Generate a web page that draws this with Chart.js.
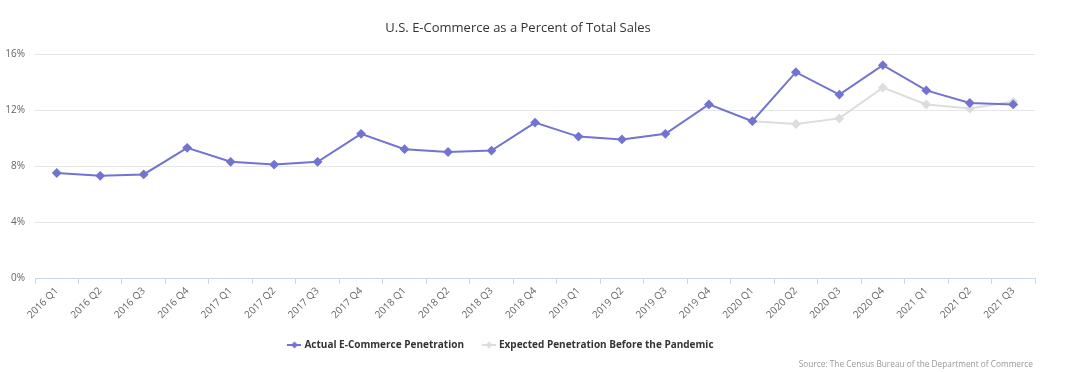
<!DOCTYPE html>
<html>
<head>
<meta charset="utf-8">
<script src="https://cdn.jsdelivr.net/npm/chart.js@4/dist/chart.umd.min.js"></script>
<style>
html,body{margin:0;padding:0;background:#fff;}
#wrap{width:1080px;height:372px;position:relative;}
</style>
</head>
<body>
<div id="wrap"><canvas id="c" width="1080" height="372"></canvas></div>
<script>
const categories = ["2016 Q1","2016 Q2","2016 Q3","2016 Q4","2017 Q1","2017 Q2","2017 Q3","2017 Q4",
  "2018 Q1","2018 Q2","2018 Q3","2018 Q4","2019 Q1","2019 Q2","2019 Q3","2019 Q4",
  "2020 Q1","2020 Q2","2020 Q3","2020 Q4","2021 Q1","2021 Q2","2021 Q3"];
const actualPenetration = [7.5,7.3,7.4,9.3,8.3,8.1,8.3,10.3,9.2,9.0,9.1,11.1,10.1,9.9,10.3,12.4,11.2,14.7,13.1,15.2,13.4,12.5,12.4];
const expectedPenetration = [null,null,null,null,null,null,null,null,null,null,null,null,null,null,null,null,11.2,11.0,11.4,13.6,12.4,12.1,12.6];
const yTicks = [0,4,8,12,16];
const seriesNames = ["Actual E-Commerce Penetration","Expected Penetration Before the Pandemic"];
const titleText = "U.S. E-Commerce as a Percent of Total Sales";
const sourceText = "Source: The Census Bureau of the Department of Commerce";

const PURPLE = '#7373d1';
const GRAY = '#dddddd';
const FONT = "'Open Sans', 'Liberation Sans', sans-serif";

function legendIcon(color){
  const cv = document.createElement('canvas');
  cv.width = 14; cv.height = 10;
  const g = cv.getContext('2d');
  g.strokeStyle = color; g.lineWidth = 2;
  g.beginPath(); g.moveTo(0,5); g.lineTo(14,5); g.stroke();
  g.fillStyle = color;
  g.beginPath(); g.moveTo(7,1.5); g.lineTo(10.5,5); g.lineTo(7,8.5); g.lineTo(3.5,5); g.closePath(); g.fill();
  return cv;
}
const icons = [legendIcon(PURPLE), legendIcon(GRAY)];

const extras = {
  id: 'extras',
  afterLayout(chart){
    const lg = chart.legend;
    if (lg) { lg.left -= 16; lg.right -= 16; }
  },
  afterDraw(chart){
    const ctx = chart.ctx;
    ctx.save();
    ctx.fillStyle = '#333333';
    ctx.font = "13px " + FONT;
    ctx.textAlign = 'center';
    ctx.textBaseline = 'middle';
    ctx.fillText(titleText, 518, 28);
    ctx.fillStyle = '#999999';
    ctx.font = "8.3px " + FONT;
    ctx.textAlign = 'right';
    ctx.fillText(sourceText, 1033, 365);
    ctx.restore();
  }
};

new Chart(document.getElementById('c'), {
  type: 'line',
  data: {
    labels: categories,
    datasets: [
      { label: seriesNames[0], data: actualPenetration, borderColor: PURPLE, backgroundColor: PURPLE,
        borderWidth: 2, pointStyle: 'rectRot', pointRadius: 3.5, pointHoverRadius: 4, tension: 0 },
      { label: seriesNames[1], data: expectedPenetration, borderColor: GRAY, backgroundColor: GRAY,
        borderWidth: 2, pointStyle: 'rectRot', pointRadius: 3.5, pointHoverRadius: 4, tension: 0, spanGaps: false }
    ]
  },
  options: {
    responsive: false,
    animation: false,
    layout: { padding: { top: 54, right: 45, bottom: 12, left: 0 } },
    plugins: {
      title: { display: false },
      tooltip: { enabled: false },
      legend: {
        position: 'bottom',
        labels: {
          usePointStyle: true,
          padding: 20,
          color: '#333333',
          font: { family: FONT, size: 10, weight: 'bold' },
          generateLabels(chart){
            return chart.data.datasets.map((ds, i) => ({
              text: ds.label, pointStyle: icons[i], fillStyle: ds.borderColor,
              strokeStyle: ds.borderColor, lineWidth: 0, hidden: false, datasetIndex: i, fontColor: '#333333'
            }));
          }
        }
      }
    },
    scales: {
      x: {
        offset: true,
        grid: { display: true, drawOnChartArea: false, drawTicks: true, tickLength: 6, color: '#ccd6eb', offset: true },
        border: { display: true, color: '#ccd6eb' },
        ticks: { color: '#666666', font: { family: FONT, size: 10 }, maxRotation: 45, minRotation: 45, padding: 1, autoSkip: false },
        afterFit(scale){ scale.height = 42; }
      },
      y: {
        min: 0, max: 16,
        afterBuildTicks(scale){ scale.ticks = yTicks.map(v => ({ value: v })); },
        grid: { color: '#e6e6e6', drawTicks: false },
        border: { display: false },
        ticks: { color: '#666666', font: { family: FONT, size: 10 }, padding: 10, callback: v => v + '%' },
        afterFit(scale){ scale.width = 35; }
      }
    }
  },
  plugins: [extras]
});
</script>
</body>
</html>
